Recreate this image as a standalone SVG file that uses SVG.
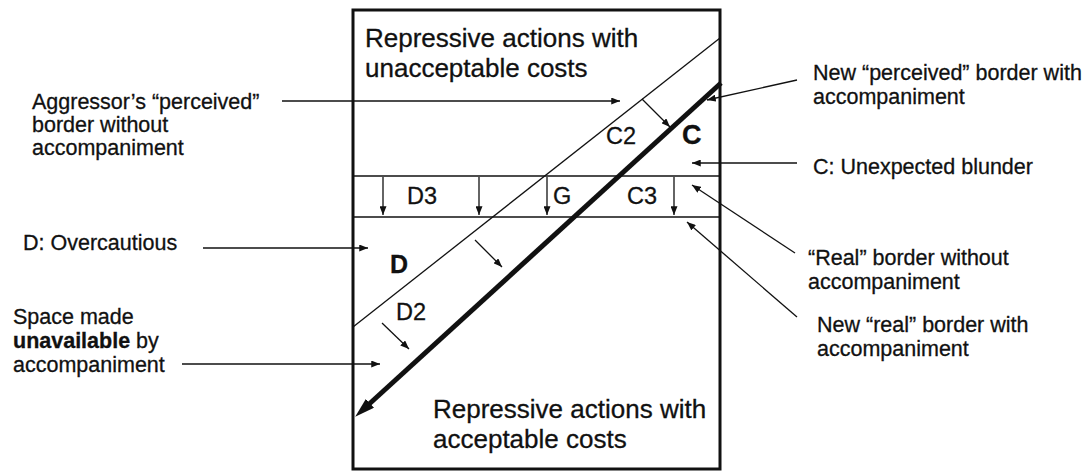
<svg xmlns="http://www.w3.org/2000/svg" width="1087" height="472" viewBox="0 0 1087 472">
<style>
text{font-family:"Liberation Sans",Arial,sans-serif;fill:#111;stroke:#111;stroke-width:0.3}
.lbl{font-size:21.5px}
.big{font-size:26px}
.in{font-size:23.5px}
.b{font-weight:bold}
.thin{stroke:#111;stroke-width:1.3;fill:none}
.arr{stroke:#111;stroke-width:1.3;fill:none;marker-end:url(#ah)}
</style>
<defs>
<marker id="ah" viewBox="0 0 10 8" refX="10" refY="4" markerWidth="9" markerHeight="7" markerUnits="userSpaceOnUse" orient="auto">
<path d="M0,0 L10,4 L0,8 z" fill="#111"/>
</marker>
<marker id="ahBig" viewBox="0 0 20 12" refX="4" refY="6" markerWidth="20" markerHeight="12" markerUnits="userSpaceOnUse" orient="auto">
<path d="M0,0 L20,6 L0,12 z" fill="#111"/>
</marker>
</defs>

<g id="frame">
<rect x="353" y="10" width="367" height="459" fill="#fff" stroke="#111" stroke-width="3"/>
<line class="thin" x1="353" y1="176" x2="720" y2="176"/>
<line class="thin" x1="353" y1="217" x2="720" y2="217"/>
<line class="thin" x1="720" y1="38" x2="353" y2="327"/>
<line x1="721" y1="83" x2="367" y2="406" stroke="#111" stroke-width="5" marker-end="url(#ahBig)"/>
</g>

<g id="region-texts">
<text class="big" x="365" y="47">Repressive actions with</text>
<text class="big" x="365" y="77">unacceptable costs</text>
<text class="big" x="433" y="418">Repressive actions with</text>
<text class="big" x="433" y="448">acceptable costs</text>
<text class="in" x="606" y="144">C2</text>
<text class="b" font-size="27" x="682" y="144">C</text>
<text class="in" x="407" y="204">D3</text>
<text class="in" x="553" y="204">G</text>
<text class="in" x="627" y="204">C3</text>
<text class="b" font-size="25" x="390" y="273">D</text>
<text class="in" x="396" y="320">D2</text>
</g>

<g id="label-aggressor">
<text class="lbl" x="32" y="109">Aggressor’s “perceived”</text>
<text class="lbl" x="32" y="132">border without</text>
<text class="lbl" x="32" y="155">accompaniment</text>
</g>
<g id="label-overcautious">
<text class="lbl" x="23" y="250">D: Overcautious</text>
</g>
<g id="label-space">
<text class="lbl" x="13" y="324">Space made</text>
<text class="lbl" x="13" y="348"><tspan class="b">unavailable</tspan> by</text>
<text class="lbl" x="13" y="372">accompaniment</text>
</g>
<g id="label-new-perceived">
<text class="lbl" x="813" y="80">New “perceived” border with</text>
<text class="lbl" x="813" y="104">accompaniment</text>
</g>
<g id="label-blunder">
<text class="lbl" x="813" y="174">C: Unexpected blunder</text>
</g>
<g id="label-real">
<text class="lbl" x="808" y="265">“Real” border without</text>
<text class="lbl" x="808" y="289">accompaniment</text>
</g>
<g id="label-new-real">
<text class="lbl" x="817" y="332">New “real” border with</text>
<text class="lbl" x="817" y="356">accompaniment</text>
</g>

<g id="connectors">
<line class="arr" x1="282" y1="101" x2="620" y2="101"/>
<line class="arr" x1="797" y1="80" x2="707" y2="100"/>
<line class="arr" x1="797" y1="163" x2="692" y2="163"/>
<line class="arr" x1="795" y1="253" x2="692" y2="185"/>
<line class="arr" x1="797" y1="317" x2="687" y2="222"/>
<line class="arr" x1="203" y1="248" x2="368" y2="248"/>
<line class="arr" x1="182" y1="364" x2="380" y2="364"/>
<line class="arr" x1="642" y1="99" x2="670" y2="127"/>
<line class="arr" x1="475" y1="240" x2="502" y2="267"/>
<line class="arr" x1="382" y1="323" x2="409" y2="349"/>
<line class="arr" x1="383" y1="177" x2="383" y2="215"/>
<line class="arr" x1="479" y1="177" x2="479" y2="215"/>
<line class="arr" x1="547" y1="177" x2="547" y2="215"/>
<line class="arr" x1="674" y1="177" x2="674" y2="215"/>
</g>
</svg>
